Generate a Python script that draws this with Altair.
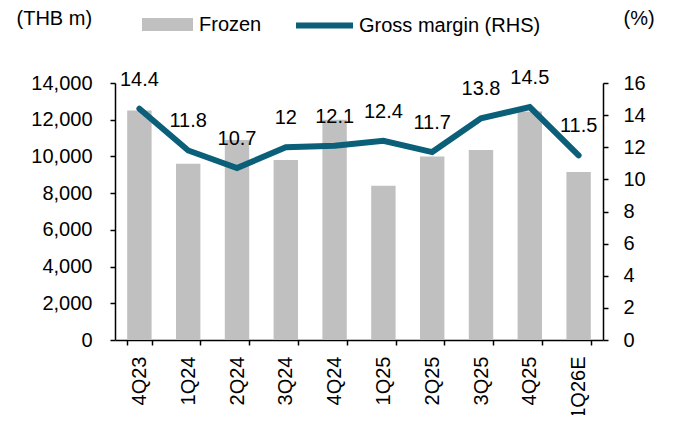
import altair as alt
import pandas as pd

quarters = ["4Q23", "1Q24", "2Q24", "3Q24", "4Q24", "1Q25", "2Q25", "3Q25", "4Q25", "1Q26E"]
frozen = [12500, 9600, 10900, 9800, 12000, 8400, 10000, 10350, 12450, 9150]
gross_margin = [14.4, 11.8, 10.7, 12.0, 12.1, 12.4, 11.7, 13.8, 14.5, 11.5]
left_ticks = [0, 2000, 4000, 6000, 8000, 10000, 12000, 14000]
right_ticks = [0, 2, 4, 6, 8, 10, 12, 14, 16]

df = pd.DataFrame({
    "quarter": quarters,
    "frozen": frozen,
    "gm": gross_margin,
    "s1": ["Frozen"] * len(quarters),
    "s2": ["Gross margin (RHS)"] * len(quarters),
})

FONT = "Liberation Sans"
BAR = "#C0C0C0"
LINE = "#0B5F78"

x_enc = alt.X(
    "quarter:N", sort=quarters, title=None,
    scale=alt.Scale(paddingInner=0.5, paddingOuter=0.25),
    axis=alt.Axis(labelAngle=270, labelFontSize=20, labelPadding=11,
                  tickBand="extent", tickSize=5, domainWidth=1.5, tickWidth=1.5),
)

bars = alt.Chart(df).mark_bar().encode(
    x=x_enc,
    y=alt.Y("frozen:Q", scale=alt.Scale(domain=[0, 14000], nice=False),
            axis=alt.Axis(values=left_ticks, format=",.0f", title="(THB m)",
                          titleAngle=0, titleAlign="left", titleBaseline="alphabetic",
                          titleX=-99, titleY=-59, labelPadding=18, tickSize=5,
                          domainWidth=1.5, tickWidth=1.5, labelFontSize=20)),
    color=alt.Color("s1:N", scale=alt.Scale(range=[BAR]),
                    legend=alt.Legend(orient="none", legendX=27, legendY=-84, title=None,
                                      symbolType="M-1,-0.255H1V0.255H-1Z", symbolSize=2601,
                                      symbolStrokeWidth=0, labelFontSize=20, labelOffset=6,
                                      labelLimit=300, padding=0)),
)

y_gm = alt.Y("gm:Q", scale=alt.Scale(domain=[0, 16], nice=False),
             axis=alt.Axis(orient="right", values=right_ticks, title="(%)",
                           titleAngle=0, titleAlign="left", titleBaseline="alphabetic",
                           titleX=20, titleY=-59, labelPadding=15, tickSize=5,
                           domainWidth=1.5, tickWidth=1.5, labelFontSize=20))

line = alt.Chart(df).mark_line(strokeWidth=6, strokeCap="round").encode(
    x=x_enc,
    y=y_gm,
    stroke=alt.Stroke("s2:N", scale=alt.Scale(range=[LINE]),
                      legend=alt.Legend(orient="none", legendX=178, legendY=-89, title=None,
                                        symbolType="stroke", symbolSize=3249,
                                        symbolStrokeWidth=6, labelFontSize=20, labelOffset=3,
                                        labelLimit=300, padding=0)),
)

labels = alt.Chart(df).mark_text(dy=-23, baseline="alphabetic", fontSize=20,
                                 font=FONT, color="black").encode(
    x=x_enc,
    y=y_gm,
    text=alt.Text("gm:Q", format=".3~g"),
)

chart = alt.layer(bars, alt.layer(line, labels)).resolve_scale(
    y="independent", color="independent"
).properties(
    width=488, height=257,
    autosize=alt.AutoSizeParams(type="none"),
    padding={"left": 107, "top": 75, "right": 62, "bottom": 75},
).configure_view(stroke=None).configure_axis(
    labelFont=FONT, titleFont=FONT, labelColor="black", titleColor="black",
    domainColor="black", tickColor="black", grid=False,
    titleFontWeight="normal", titleFontSize=20,
).configure_legend(labelFont=FONT, labelColor="black")

chart.save("out.html", embed_options={"renderer": "svg", "actions": False})
